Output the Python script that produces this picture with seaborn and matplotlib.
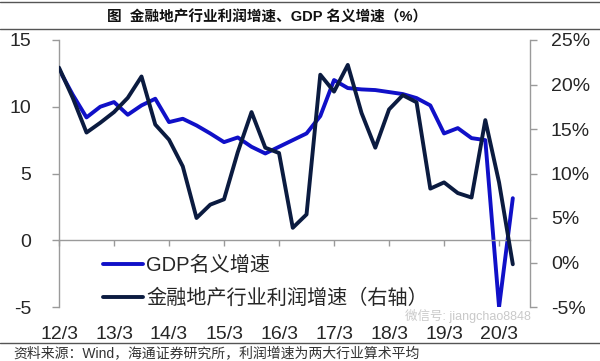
import matplotlib
matplotlib.use("Agg")
import matplotlib.pyplot as plt
import seaborn as sns
import pandas as pd
from matplotlib.lines import Line2D
from matplotlib.ticker import FuncFormatter

# ---- data ----
quarters = ["12/3", "12/6", "12/9", "12/12", "13/3", "13/6", "13/9", "13/12",
            "14/3", "14/6", "14/9", "14/12", "15/3", "15/6", "15/9", "15/12",
            "16/3", "16/6", "16/9", "16/12", "17/3", "17/6", "17/9", "17/12",
            "18/3", "18/6", "18/9", "18/12", "19/3", "19/6", "19/9", "19/12",
            "20/3", "20/6"]
gdp_nominal = [12.8, 10.9, 9.2, 10.0, 10.35, 9.4, 10.1, 10.6,
               8.85, 9.1, 8.6, 8.0, 7.35, 7.7, 7.0, 6.5,
               7.0, 7.5, 8.0, 9.3, 12.0, 11.4, 11.3, 11.25,
               11.1, 10.95, 10.65, 10.1, 8.0, 8.4, 7.65, 7.5,
               -5.0, 3.15]
profit_growth = [21.9, 18.5, 14.6, 15.7, 16.9, 18.5, 20.9, 15.5,
                 13.8, 10.8, 5.0, 6.5, 7.1, 12.4, 16.9, 12.9,
                 12.3, 3.9, 5.4, 21.1, 19.2, 22.2, 16.8, 12.9,
                 17.2, 18.8, 18.0, 8.3, 9.0, 7.8, 7.3, 16.0,
                 9.0, -0.2]
tick_labels = ["12/3", "13/3", "14/3", "15/3", "16/3", "17/3", "18/3", "19/3", "20/3"]
left_ticks = [-5, 0, 5, 10, 15]
right_ticks = [-5, 0, 5, 10, 15, 20, 25]
series_names = ["GDP名义增速", "金融地产行业利润增速（右轴）"]

df = pd.DataFrame({"idx": range(len(quarters)), "quarter": quarters,
                   "gdp": gdp_nominal, "profit": profit_growth})

sns.set_theme(style="white")
plt.rcParams["font.family"] = ["Liberation Sans", "Noto Sans CJK SC"]

BLUE = "#1010C8"
NAVY = "#0B1B40"
GRAY = "#9a9a9a"
TXT = "#262626"

fig = plt.figure(figsize=(6, 3.61), dpi=100)
W, H = 600, 361
ax = fig.add_axes([59 / W, 1 - 307 / H, (530 - 59) / W, (307 - 40) / H])

sns.lineplot(data=df, x="idx", y="gdp", ax=ax, color=BLUE, lw=2.8, legend=False)
ax2 = ax.twinx()
sns.lineplot(data=df, x="idx", y="profit", ax=ax2, color=NAVY, lw=2.8, legend=False)

ax.set_xlim(0, 34.25)
ax.set_ylim(-5, 15)
ax2.set_ylim(-5, 25)
for a in (ax, ax2):
    a.set_xlabel("")
    a.set_ylabel("")
    a.grid(False)

# spines
ax.spines["top"].set_visible(False)
ax.spines["right"].set_visible(False)
ax.spines["left"].set_color(GRAY)
ax.spines["bottom"].set_position(("data", 0))
ax.spines["bottom"].set_color(GRAY)
for s in ("top", "left", "bottom"):
    ax2.spines[s].set_visible(False)
ax2.spines["right"].set_color(GRAY)
for a in (ax, ax2):
    for s in a.spines.values():
        s.set_linewidth(1.0)

# ticks
tick_pos = [quarters.index(t) for t in tick_labels]
ax.set_xticks(tick_pos)
ax.set_xticklabels(tick_labels)
ax.tick_params(axis="x", bottom=True, direction="out", length=4, width=1,
               color=GRAY, pad=58, labelsize=14, labelcolor=TXT)
ax.set_yticks(left_ticks)
ax.set_yticklabels([str(v) for v in left_ticks])
ax.tick_params(axis="y", left=True, direction="out", length=5, width=1,
               color=GRAY, pad=15, labelsize=14, labelcolor=TXT)
ax2.set_yticks(right_ticks)
ax2.yaxis.set_major_formatter(FuncFormatter(lambda v, p: f"{int(v)}%"))
ax2.tick_params(axis="y", right=True, direction="out", length=5, width=1,
                color=GRAY, pad=10, labelsize=14, labelcolor=TXT)

# legend
handles = [Line2D([0], [0], color=BLUE, lw=2.8), Line2D([0], [0], color=NAVY, lw=2.8)]
leg = ax2.legend(handles, series_names, loc="upper left",
                 bbox_to_anchor=(103 / W, 1 - 256 / H), bbox_transform=fig.transFigure,
                 frameon=False, borderpad=0, borderaxespad=0, handlelength=2.0,
                 handletextpad=0.15, labelspacing=0.68, fontsize=14.5)
for t in leg.get_texts():
    t.set_color(TXT)

# title, rules, source
fig.text(107 / W, 1 - 17 / H, "图  金融地产行业利润增速、GDP 名义增速（%）",
         ha="left", va="center", fontsize=10.5, fontweight="bold", color="#111111")
for yy in (1.5, 29, 343):
    fig.add_artist(Line2D([0, 1], [1 - yy / H] * 2, transform=fig.transFigure,
                          color="#555555", lw=1.0))
fig.text(13 / W, 1 - 353 / H, "资料来源：Wind，海通证券研究所，利润增速为两大行业算术平均",
         ha="left", va="center", fontsize=10, color="#333333")
fig.text(405 / W, 1 - 316 / H, "微信号: jiangchao8848", ha="left", va="center",
         fontsize=9, color="#c0c0c0", alpha=0.85)

fig.savefig("out.png", dpi=100)
